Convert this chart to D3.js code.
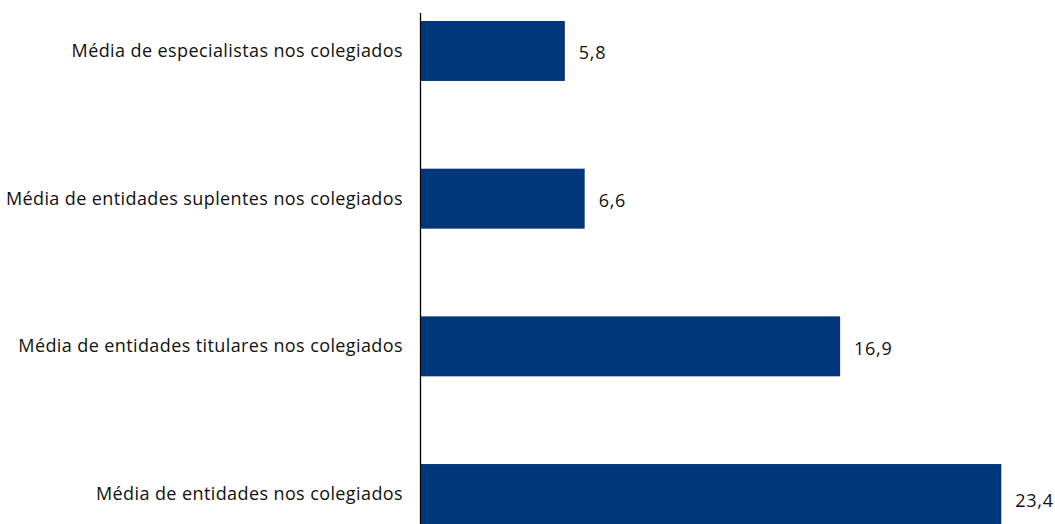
<!DOCTYPE html>
<html>
<head>
<meta charset="utf-8">
<script src="https://cdn.jsdelivr.net/npm/d3@7"></script>
<style>
    body { margin: 0; background: #fff; }
    svg text { font-family: "Open Sans", "Noto Sans", sans-serif; fill: #111; }
</style>
</head>
<body>
<div id="chart"></div>
<script>
// Categories, top to bottom
const categories = [
    "Média de especialistas nos colegiados",
    "Média de entidades suplentes nos colegiados",
    "Média de entidades titulares nos colegiados",
    "Média de entidades nos colegiados"
];
const values = [5.8, 6.6, 16.9, 23.4];

const width = 1055, height = 524;
const barColor = "#00377a";

const svg = d3.select("#chart")
    .append("svg")
    .attr("width", width)
    .attr("height", height);

const x = d3.scaleLinear().domain([0, 25]).range([421, 1041]);
const y = d3.scaleBand()
    .domain(categories)
    .range([21, 524])
    .paddingInner(0.594)
    .paddingOuter(0);

const fmt = v => d3.format(".1f")(v).replace(".", ",");

// Bars
svg.selectAll("rect.bar")
    .data(values)
    .enter()
    .append("rect")
    .attr("class", "bar")
    .attr("x", x(0))
    .attr("y", (d, i) => y(categories[i]))
    .attr("width", d => x(d) - x(0))
    .attr("height", y.bandwidth())
    .attr("fill", barColor);

// Vertical axis line
svg.append("line")
    .attr("x1", 420.5).attr("x2", 420.5)
    .attr("y1", 13).attr("y2", height)
    .attr("stroke", "#000")
    .attr("stroke-width", 1.3);

// Category labels
svg.selectAll("text.cat")
    .data(categories)
    .enter()
    .append("text")
    .attr("class", "cat")
    .attr("x", 403)
    .attr("y", d => y(d) + y.bandwidth() / 2)
    .attr("dy", "0.33em")
    .attr("text-anchor", "end")
    .style("font-size", "18px")
    .style("letter-spacing", "0.4px")
    .text(d => d);

// Value labels
svg.selectAll("text.val")
    .data(values)
    .enter()
    .append("text")
    .attr("class", "val")
    .attr("x", d => x(d) + 14)
    .attr("y", (d, i) => y(categories[i]) + y.bandwidth() / 2 + (i === 3 ? 7 : 2))
    .attr("dy", "0.35em")
    .style("font-size", "18px")
    .style("letter-spacing", "0.7px")
    .text(d => fmt(d));
</script>
</body>
</html>
